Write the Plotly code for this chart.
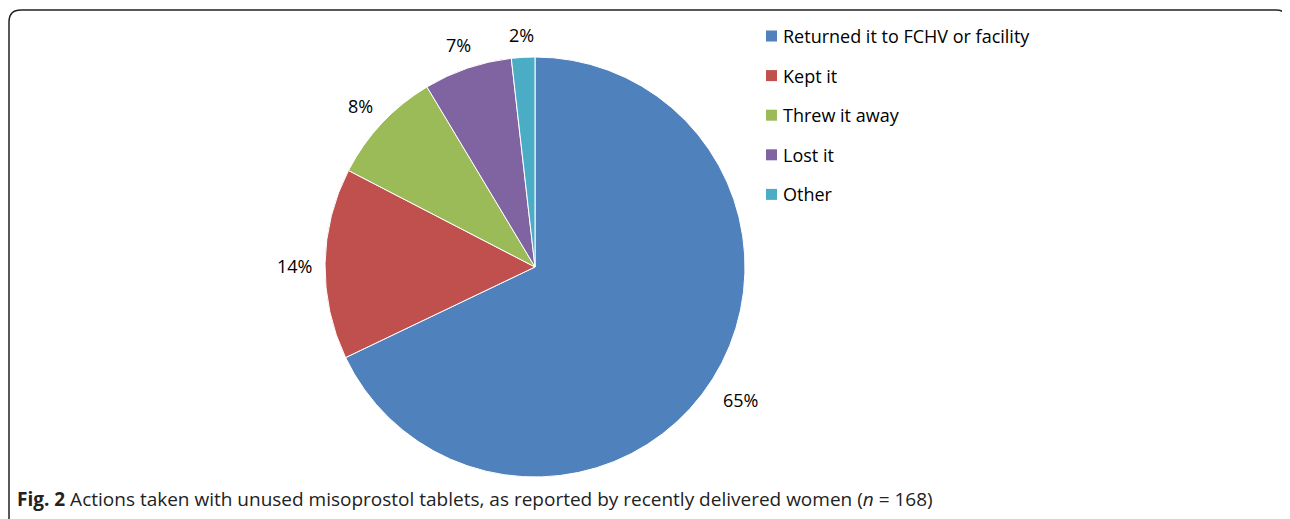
import math
import plotly.graph_objects as go

categories = ["Returned it to FCHV or facility", "Kept it", "Threw it away", "Lost it", "Other"]
values = [67.9, 14.7, 8.8, 6.8, 1.8]
labels_text = ["65%", "14%", "8%", "7%", "2%"]
colors = ["#4F81BD", "#C0504D", "#9BBB59", "#8064A2", "#4BACC6"]

W, H = 1290, 519
OFF = 8  # page body margin
CX, CY, R = 535, 267, 210
FONT = "Open Sans"
LABEL_SIZE = 18

def px(x):
    return (x - OFF) / W

def py(y):
    return 1 - (y - OFF) / H

fig = go.Figure(go.Pie(
    labels=categories, values=values, sort=False, direction="clockwise", rotation=0,
    marker=dict(colors=colors, line=dict(color="white", width=1)),
    textinfo="none", hoverinfo="label+percent", showlegend=False,
    domain=dict(x=[px(CX - R), px(CX + R)], y=[py(CY + R), py(CY - R)]),
))

# outside labels positioned from the slice mid-angles (text box kept a fixed gap from the rim)
total = sum(values)
cum = 0
for v, t in zip(values, labels_text):
    mid = (cum + v / 2) / total * 2 * math.pi
    cum += v
    s, c = math.sin(mid), math.cos(mid)
    tw = 0.56 * LABEL_SIZE * len(t) * 0.95
    th = LABEL_SIZE
    rl = R + 16 + abs(s) * tw / 2 + abs(c) * th / 2
    lx = CX + rl * s
    ly = CY - rl * c + 3
    fig.add_annotation(x=px(lx), y=py(ly), xref="paper", yref="paper", text=t, showarrow=False,
                       xanchor="center", yanchor="middle",
                       font=dict(family=FONT, size=LABEL_SIZE, color="#000"))

# manual legend
for i, (cat, col) in enumerate(zip(categories, colors)):
    yc = 36 + i * 39.6
    fig.add_shape(type="rect", xref="paper", yref="paper",
                  x0=px(766), x1=px(777), y0=py(yc + 5.5), y1=py(yc - 5.5),
                  fillcolor=col, line=dict(width=0))
    fig.add_annotation(x=px(781), y=py(yc), xref="paper", yref="paper", text=cat, showarrow=False,
                       xanchor="left", yanchor="middle", font=dict(family=FONT, size=18, color="#000"))

# rounded frame
pts = [(9, 540), (9, 22), (9, 10), (21, 10), (1276, 10), (1288, 10), (1288, 22), (1288, 540)]
p = [(px(a), py(b)) for a, b in pts]
path = (f"M {p[0][0]},{p[0][1]} L {p[1][0]},{p[1][1]} Q {p[2][0]},{p[2][1]} {p[3][0]},{p[3][1]} "
        f"L {p[4][0]},{p[4][1]} Q {p[5][0]},{p[5][1]} {p[6][0]},{p[6][1]} L {p[7][0]},{p[7][1]}")
fig.add_shape(type="path", xref="paper", yref="paper", path=path, line=dict(color="#222", width=1.5))

fig.add_annotation(x=px(15), y=py(499), xref="paper", yref="paper", showarrow=False,
                   xanchor="left", yanchor="middle",
                   text="<b>Fig. 2</b> Actions taken with unused misoprostol tablets, as reported by recently delivered women (<i>n</i> = 168)",
                   font=dict(family=FONT, size=19, color="#222"))

fig.update_layout(width=W, height=H, margin=dict(l=0, r=0, t=0, b=0),
                  paper_bgcolor="white", plot_bgcolor="white")
fig.write_html("out.html")
